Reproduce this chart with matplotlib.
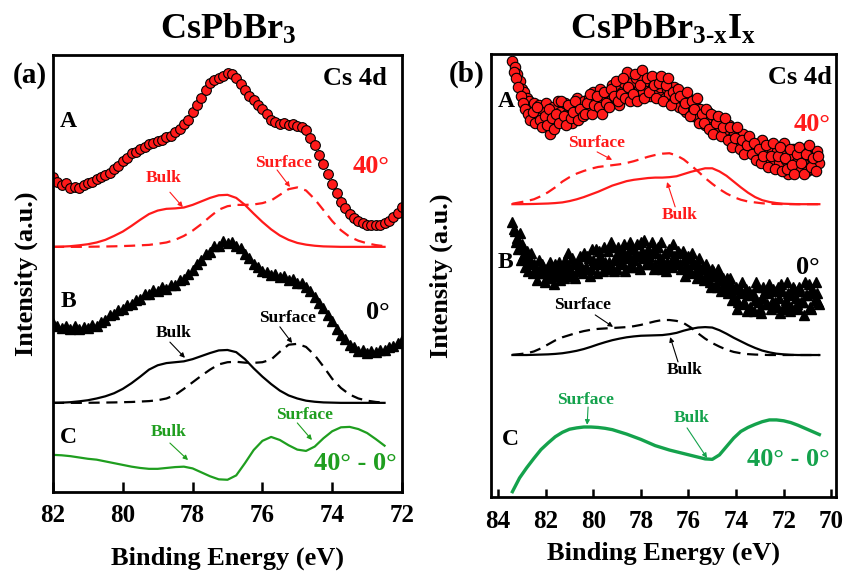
import numpy as np
import matplotlib
matplotlib.use("Agg")
import matplotlib.pyplot as plt

plt.rcParams['font.family'] = 'Liberation Serif'
plt.rcParams['font.weight'] = 'bold'
plt.rcParams['mathtext.fontset'] = 'custom'
plt.rcParams['mathtext.rm'] = 'Liberation Serif:bold'
plt.rcParams['mathtext.bf'] = 'Liberation Serif:bold'
plt.rcParams['mathtext.it'] = 'Liberation Serif:bold'

RED = '#ff1a1a'
GREEN_L = '#1f9e1f'
GREEN_R = '#14a24c'

# ---------------- (a) CsPbBr3 ----------------
# measured spectra, 82 -> 72 eV
a_40_pts = [72.1, 71.0, 70.3, 70.6, 69.6, 69.9, 69.5, 70.3, 70.6, 70.9,
            71.6, 72.0, 72.6, 73.1, 74.0, 74.6, 75.8, 76.4, 77.5, 77.9,
            78.6, 78.9, 79.6, 79.8, 80.3, 80.6, 81.2, 81.4, 82.3, 83.0,
            84.1, 85.2, 87.0, 88.6, 90.1, 92.0, 93.6, 94.2, 94.8, 95.3,
            95.9, 95.6, 94.8, 93.4, 92.0, 90.6, 89.7, 88.5, 87.6, 86.5,
            85.1, 84.6, 84.2, 84.4, 84.0, 84.1, 83.8, 83.5, 82.9, 81.0,
            79.3, 77.2, 75.0, 72.8, 70.5, 68.4, 66.4, 65.0, 63.7, 62.8,
            62.0, 61.5, 61.2, 61.0, 61.1, 61.2, 61.6, 62.1, 62.9, 63.8,
            65.2]
a_0_pts = [38.6, 38.0, 37.6, 38.1, 37.4, 37.9, 37.2, 37.8, 37.6, 38.3,
           38.0, 39.0, 39.3, 40.4, 40.7, 41.7, 41.9, 42.9, 43.0, 44.0,
           44.2, 45.3, 45.4, 46.3, 46.0, 46.8, 46.5, 47.4, 47.4, 48.4,
           48.8, 49.9, 50.8, 52.2, 53.1, 54.5, 55.0, 56.2, 56.4, 57.4,
           57.0, 57.3, 56.2, 55.8, 54.4, 53.5, 52.1, 51.6, 50.6, 50.4,
           49.6, 49.8, 49.1, 49.4, 48.6, 48.8, 47.9, 47.9, 46.8, 45.9,
           44.6, 43.3, 42.1, 40.5, 39.1, 37.4, 36.0, 34.9, 33.6, 33.1,
           32.3, 32.4, 31.8, 32.3, 32.1, 32.6, 32.4, 33.1, 33.3, 34.2,
           34.8]
# fitted components, 82 -> 72.5 eV, height above baseline
a_40_bulk = [0.0, 0.05, 0.15, 0.35, 0.6, 1.0, 1.6, 2.5, 3.5, 4.8,
             6.2, 7.5, 8.3, 8.7, 8.8, 9.0, 9.6, 10.4, 11.2, 11.8,
             11.9, 11.2, 9.6, 7.6, 5.7, 4.0, 2.6, 1.6, 0.9, 0.5,
             0.25, 0.1, 0.05, 0.0, 0.0, 0.0, 0.0, 0.0, 0.0]
a_40_surf = [0.0, 0.0, 0.0, 0.0, 0.02, 0.05, 0.08, 0.12, 0.18, 0.25,
             0.35, 0.45, 0.7, 1.0, 1.6, 2.5, 3.7, 5.2, 6.9, 8.5,
             9.3, 9.6, 9.6, 9.7, 10.0, 10.6, 11.9, 13.2, 13.6, 12.9,
             10.9, 8.4, 5.9, 3.8, 2.3, 1.4, 0.8, 0.4, 0.15]
a_0_bulk = [0.0, 0.05, 0.15, 0.35, 0.6, 1.0, 1.5, 2.2, 3.2, 4.5,
            6.0, 7.6, 8.6, 9.1, 9.3, 9.5, 10.0, 10.7, 11.4, 12.0,
            12.1, 11.6, 10.0, 7.9, 6.0, 4.3, 2.8, 1.7, 1.0, 0.5,
            0.25, 0.1, 0.05, 0.0, 0.0, 0.0, 0.0, 0.0, 0.0]
a_0_surf = [0.0, 0.0, 0.0, 0.0, 0.02, 0.04, 0.07, 0.1, 0.15, 0.2,
            0.3, 0.4, 0.6, 1.0, 1.8, 3.2, 4.7, 6.2, 7.6, 8.8,
            9.3, 9.4, 9.2, 9.15, 9.3, 9.9, 11.7, 13.3, 13.5, 12.8,
            10.9, 8.3, 5.5, 3.4, 1.9, 1.0, 0.5, 0.2, 0.05]
a_diff = [8.5, 8.4, 8.2, 7.9, 7.6, 7.4, 7.0, 6.6, 6.2, 5.8,
          5.5, 5.3, 5.3, 5.5, 5.7, 5.8, 5.4, 4.5, 3.6, 2.9,
          2.8, 3.8, 6.6, 9.6, 11.7, 12.6, 11.9, 10.7, 9.7, 9.4,
          10.4, 12.3, 13.9, 14.8, 14.9, 14.4, 13.5, 12.1, 10.6]
a_base_40 = 56.1
a_base_0 = 20.4

# ---------------- (b) CsPbBr3-xIx ----------------
# measured spectra, two interleaved scans: 83.4 -> 70.5 eV and 83.35 -> 70.55 eV
b_40_pts = [98.5, 97.0, 95.5, 94.0, 92.0, 91.5, 90.0, 89.5, 88.0, 89.0,
            86.0, 88.5, 84.5, 87.5, 89.0, 86.5, 82.0, 88.0, 86.0, 89.5,
            87.0, 85.5, 89.0, 86.5, 88.0, 84.5, 87.5, 90.0, 86.5, 88.5,
            89.5, 87.0, 90.0, 88.0, 91.5, 87.5, 90.5, 92.0, 89.0, 90.5,
            91.0, 89.5, 93.0, 90.0, 92.5, 88.5, 91.5, 93.5, 96.0, 92.0,
            93.5, 90.5, 94.5, 92.0, 95.0, 91.5, 93.0, 94.0, 90.5, 92.5,
            93.5, 91.0, 92.5, 94.5, 90.0, 92.0, 91.0, 89.0, 92.5, 90.0,
            88.0, 91.0, 89.5, 87.0, 90.0, 88.5, 86.0, 88.0, 85.5, 87.5,
            86.5, 84.0, 87.0, 85.0, 83.5, 86.0, 84.5, 82.5, 85.0, 83.0,
            82.0, 84.0, 81.0, 82.5, 80.0, 81.5, 79.5, 82.0, 80.5, 78.5,
            80.0, 78.0, 79.5, 77.0, 79.0, 80.5, 77.5, 79.0, 76.5, 78.5,
            76.0, 78.0, 75.5, 77.5, 80.0, 76.0, 73.0, 77.0, 78.5, 75.5,
            77.5, 74.5, 76.0, 78.5, 73.5, 77.0, 74.0, 76.5, 78.0, 75.5]
b_40_pts2 = [96.0, 94.5, 92.5, 90.5, 89.0, 87.5, 86.5, 85.0, 87.0, 84.5,
             88.0, 85.0, 83.5, 86.0, 84.0, 87.5, 85.5, 83.0, 86.5, 84.5,
             89.5, 86.0, 84.0, 88.5, 85.5, 87.0, 89.5, 85.0, 87.5, 86.0,
             86.5, 89.0, 91.0, 86.5, 88.5, 90.5, 88.0, 86.5, 91.5, 89.0,
             88.0, 92.0, 90.5, 94.0, 89.5, 91.0, 94.5, 90.0, 92.5, 89.5,
             91.0, 95.5, 89.5, 93.0, 96.5, 90.0, 94.5, 91.5, 95.0, 93.0,
             90.0, 93.5, 95.0, 89.5, 93.0, 94.5, 88.5, 91.5, 90.0, 92.0,
             90.5, 87.5, 89.0, 91.5, 86.0, 89.5, 87.5, 90.0, 84.5, 86.5,
             84.5, 87.5, 83.0, 86.5, 82.0, 84.5, 86.0, 81.5, 83.5, 85.5,
             80.5, 83.5, 79.0, 81.0, 83.5, 78.5, 80.5, 77.5, 79.5, 81.5,
             77.5, 80.0, 76.0, 78.5, 75.5, 77.0, 79.5, 74.5, 77.0, 80.0,
             74.0, 77.0, 79.0, 73.5, 76.5, 74.0, 78.5, 75.0, 73.0, 77.5,
             79.0, 75.5, 73.0, 77.5, 79.5, 74.5, 76.5, 73.5, 77.0]
b_0_pts = [62.0, 60.0, 58.5, 59.5, 57.0, 56.0, 55.5, 54.0, 55.0, 52.5,
           51.5, 53.5, 50.5, 52.0, 49.5, 51.0, 53.0, 50.0, 52.5, 51.0,
           49.0, 52.0, 53.5, 50.5, 51.5, 54.0, 50.0, 52.5, 53.0, 51.0,
           55.0, 52.0, 54.0, 51.5, 53.5, 56.0, 52.5, 54.5, 51.0, 53.0,
           55.5, 52.0, 56.5, 53.5, 51.5, 55.0, 53.0, 57.0, 54.0, 52.0,
           56.0, 53.5, 55.0, 52.0, 57.5, 54.0, 52.5, 56.0, 53.0, 55.5,
           52.5, 56.5, 54.0, 51.5, 55.0, 53.0, 56.0, 52.0, 54.5, 52.5,
           55.0, 51.5, 53.5, 52.0, 54.5, 50.5, 53.0, 51.0, 52.5, 50.0,
           52.0, 49.5, 51.0, 48.5, 51.5, 50.0, 47.5, 50.5, 49.0, 47.0,
           49.5, 46.5, 48.0, 45.0, 47.5, 44.0, 46.5, 43.5, 47.0, 45.5,
           43.0, 46.0, 44.5, 47.5, 42.5, 45.0, 46.5, 43.5, 48.0, 44.0,
           46.5, 43.0, 45.0, 48.0, 42.5, 44.5, 46.0, 43.0, 47.5, 45.0,
           42.5, 46.5, 44.0, 48.5, 45.5, 43.0, 47.0, 44.5, 46.0, 43.5]
b_0_pts2 = [60.5, 57.5, 56.0, 53.5, 54.5, 52.0, 51.0, 53.0, 50.5, 51.5,
            49.0, 50.5, 52.5, 48.5, 51.5, 49.5, 52.0, 48.0, 50.0, 53.0,
            51.0, 49.5, 52.0, 55.0, 50.0, 52.5, 49.5, 51.5, 54.5, 50.5,
            51.5, 54.5, 50.0, 56.0, 52.5, 50.5, 55.5, 53.0, 56.5, 51.5,
            53.0, 57.5, 51.0, 54.5, 56.5, 52.5, 55.5, 51.0, 55.0, 57.5,
            52.0, 54.5, 57.0, 51.5, 55.5, 58.0, 52.5, 54.5, 57.5, 51.5,
            55.0, 52.0, 57.5, 53.0, 51.0, 55.5, 52.5, 57.0, 53.0, 55.5,
            52.5, 55.5, 50.0, 54.0, 51.0, 55.0, 52.5, 49.5, 54.0, 51.5,
            49.0, 52.5, 50.5, 47.5, 51.0, 48.0, 51.5, 46.5, 49.5, 48.5,
            46.0, 49.5, 44.5, 47.0, 42.5, 46.0, 48.5, 44.0, 42.0, 46.5,
            45.5, 42.0, 48.5, 44.0, 41.5, 47.5, 43.5, 46.0, 42.5, 47.0,
            44.0, 47.5, 41.5, 46.5, 43.5, 48.5, 42.0, 45.5, 47.0, 43.5,
            47.5, 44.0, 41.0, 45.5, 48.0, 42.5, 46.0, 48.5, 44.0]
# fitted components, 83.4 -> 70.5 eV, height above baseline
b_40_surf = [0.1, 0.4, 0.7, 1.1, 1.8, 2.7, 3.8, 5.1, 6.1, 6.9,
             7.5, 8.0, 8.4, 8.6, 8.8, 9.0, 9.3, 9.7, 10.2, 10.7,
             11.1, 11.4, 11.5, 11.0, 10.1, 8.8, 7.4, 5.9, 4.6, 3.4,
             2.4, 1.6, 1.0, 0.6, 0.4, 0.2, 0.1, 0.05, 0.0, 0.0,
             0.0, 0.0, 0.0, 0.0]
b_40_bulk = [0.0, 0.0, 0.02, 0.05, 0.1, 0.15, 0.25, 0.4, 0.7, 1.1,
             1.6, 2.2, 2.8, 3.5, 4.2, 4.7, 5.2, 5.5, 5.7, 5.9,
             6.0, 6.0, 6.1, 6.3, 6.8, 7.3, 7.7, 8.1, 8.1, 7.4,
             6.4, 5.1, 3.8, 2.6, 1.6, 0.9, 0.5, 0.25, 0.1, 0.05,
             0.0, 0.0, 0.0, 0.0]
b_0_surf = [0.05, 0.2, 0.4, 0.8, 1.5, 2.4, 3.3, 4.0, 4.5, 5.0,
            5.4, 5.7, 5.9, 6.0, 6.1, 6.2, 6.3, 6.5, 6.8, 7.2,
            7.6, 7.9, 7.9, 7.7, 7.2, 6.2, 4.9, 3.7, 2.7, 1.9,
            1.2, 0.7, 0.4, 0.2, 0.1, 0.05, 0.0, 0.0, 0.0, 0.0,
            0.0, 0.0, 0.0, 0.0]
b_0_bulk = [0.0, 0.0, 0.0, 0.05, 0.1, 0.15, 0.25, 0.4, 0.65, 0.95,
            1.35, 1.85, 2.4, 2.9, 3.35, 3.7, 4.0, 4.2, 4.35, 4.4,
            4.45, 4.5, 4.7, 5.0, 5.5, 5.9, 6.2, 6.3, 6.2, 5.6,
            4.8, 3.9, 3.1, 2.3, 1.6, 1.0, 0.6, 0.3, 0.15, 0.05,
            0.0, 0.0, 0.0, 0.0]
b_diff = [1.2, 4.3, 6.6, 8.7, 10.7, 12.2, 13.6, 14.6, 15.3, 15.6,
          15.8, 15.8, 15.7, 15.5, 15.2, 14.7, 14.2, 13.6, 13.0, 12.3,
          11.6, 11.1, 10.6, 10.2, 9.8, 9.4, 9.0, 8.6, 8.5, 9.5,
          11.4, 13.3, 14.8, 15.7, 16.4, 17.0, 17.4, 17.4, 17.2, 16.8,
          16.2, 15.5, 14.8, 14.1]
b_base_40 = 66.1
b_base_0 = 32.05


def arrow(ax, tail, head, color):
    ax.annotate('', xy=head, xytext=tail,
                arrowprops=dict(arrowstyle='-|>', color=color, lw=0.8,
                                mutation_scale=7, shrinkA=0, shrinkB=0))


def style_axes(ax, xlim, ticks, ylab_x, xlab_y, ticklen):
    ax.set_xlim(*xlim)
    ax.set_ylim(0, 100)
    ax.set_xticks(ticks)
    ax.set_yticks([])
    for s in ax.spines.values():
        s.set_linewidth(2)
    ax.tick_params(axis='x', direction='in', length=ticklen, width=1.8,
                   labelsize=18, pad=9)
    ax.set_xlabel('Binding Energy (eV)', fontsize=19, fontweight='bold')
    ax.set_ylabel('Intensity (a.u.)', fontsize=19, fontweight='bold')
    ax.xaxis.set_label_coords(0.5, xlab_y)
    ax.yaxis.set_label_coords(ylab_x, 0.5)


fig = plt.figure(figsize=(8.45, 5.75), dpi=100)
W, H = 845, 575
ax1 = fig.add_axes([53 / W, 1 - 492 / H, 349 / W, 437 / H])
ax2 = fig.add_axes([491 / W, 1 - 497 / H, 345 / W, 443 / H])

# ---- panel (a)
e_pts = np.linspace(82, 72, len(a_40_pts))
e_pts0 = np.linspace(82, 72, len(a_0_pts))
e_fit = np.linspace(82, 72.5, len(a_40_bulk))
ax1.plot(e_pts, a_40_pts, 'o', ms=7, mfc=RED, mec='black', mew=0.8)
ax1.plot(e_fit, a_base_40 + np.array(a_40_bulk), color=RED, lw=1.6)
ax1.plot(e_fit, a_base_40 + np.array(a_40_surf), color=RED, lw=1.6, ls=(0, (5, 3)))
ax1.plot(e_pts0, a_0_pts, '^', ms=6.5, color='black')
ax1.plot(e_fit, a_base_0 + np.array(a_0_bulk), color='black', lw=1.6)
ax1.plot(e_fit, a_base_0 + np.array(a_0_surf), color='black', lw=1.6, ls=(0, (5, 3)))
ax1.plot(e_fit, a_diff, color=GREEN_L, lw=1.6)
style_axes(ax1, (82, 72), [82, 80, 78, 76, 74, 72], -0.043, -0.125, 7)

ax1.text(-0.066, 0.954, '(a)', transform=ax1.transAxes, fontsize=21,
         ha='center', va='center')
ax1.text(73.35, 94.7, 'Cs 4d', fontsize=19, ha='center', va='center')
ax1.text(81.57, 84.7, 'A', fontsize=17, ha='center', va='center')
ax1.text(81.57, 43.5, 'B', fontsize=17, ha='center', va='center')
ax1.text(81.57, 12.4, 'C', fontsize=17, ha='center', va='center')
ax1.text(72.89, 74.4, '40°', color=RED, fontsize=19, ha='center', va='center')
ax1.text(72.69, 41.0, '0°', fontsize=19, ha='center', va='center')
ax1.text(73.35, 6.6, '40° - 0°', color=GREEN_L, fontsize=19, ha='center', va='center')
ax1.text(78.82, 71.8, 'Bulk', color=RED, fontsize=12.5, ha='center', va='center')
ax1.text(75.38, 75.3, 'Surface', color=RED, fontsize=12.5, ha='center', va='center')
ax1.text(78.53, 36.4, 'Bulk', fontsize=12.5, ha='center', va='center')
ax1.text(75.27, 39.8, 'Surface', fontsize=12.5, ha='center', va='center')
ax1.text(78.7, 13.7, 'Bulk', color=GREEN_L, fontsize=12.5, ha='center', va='center')
ax1.text(74.78, 17.6, 'Surface', color=GREEN_L, fontsize=12.5, ha='center', va='center')
arrow(ax1, (78.65, 68.6), (78.28, 65.2), RED)
arrow(ax1, (75.58, 73.7), (75.21, 69.8), RED)
arrow(ax1, (78.65, 34.3), (78.22, 30.7), 'black')
arrow(ax1, (75.5, 37.8), (75.15, 34.1), 'black')
arrow(ax1, (78.65, 11.2), (78.13, 7.3), GREEN_L)
arrow(ax1, (75.0, 15.8), (74.58, 11.9), GREEN_L)

# ---- panel (b)
e_pts = np.linspace(83.4, 70.5, len(b_40_pts))
e_pts2 = np.linspace(83.35, 70.55, len(b_40_pts2))
e_fit = np.linspace(83.4, 70.5, len(b_40_surf))
ax2.plot(e_pts, b_40_pts, 'o', ms=7.5, mfc=RED, mec='black', mew=0.8)
ax2.plot(e_pts2, b_40_pts2, 'o', ms=7.5, mfc=RED, mec='black', mew=0.8)
ax2.plot(e_fit, b_base_40 + np.array(b_40_bulk), color=RED, lw=1.6)
ax2.plot(e_fit, b_base_40 + np.array(b_40_surf), color=RED, lw=1.6, ls=(0, (5, 3)))
ax2.plot(np.linspace(83.4, 70.5, len(b_0_pts)), b_0_pts, '^', ms=7.5, color='black')
ax2.plot(np.linspace(83.35, 70.55, len(b_0_pts2)), b_0_pts2, '^', ms=7.5, color='black')
ax2.plot(e_fit, b_base_0 + np.array(b_0_bulk), color='black', lw=1.6)
ax2.plot(e_fit, b_base_0 + np.array(b_0_surf), color='black', lw=1.6, ls=(0, (5, 3)))
ax2.plot(e_fit, b_diff, color=GREEN_R, lw=2.4)
style_axes(ax2, (84.3, 69.8), [84, 82, 80, 78, 76, 74, 72, 70], -0.11, -0.10, 6)

ax2.text(-0.07, 0.953, '(b)', transform=ax2.transAxes, fontsize=21,
         ha='center', va='center')
ax2.text(71.31, 94.8, 'Cs 4d', fontsize=19, ha='center', va='center')
ax2.text(83.66, 89.2, 'A', fontsize=17, ha='center', va='center')
ax2.text(83.7, 53.0, 'B', fontsize=17, ha='center', va='center')
ax2.text(83.5, 12.9, 'C', fontsize=17, ha='center', va='center')
ax2.text(70.81, 84.0, '40°', color=RED, fontsize=19, ha='center', va='center')
ax2.text(70.97, 51.9, '0°', fontsize=19, ha='center', va='center')
ax2.text(71.82, 8.4, '40° - 0°', color=GREEN_R, fontsize=19, ha='center', va='center')
ax2.text(79.88, 79.9, 'Surface', color=RED, fontsize=12.5, ha='center', va='center')
ax2.text(76.35, 63.6, 'Bulk', color=RED, fontsize=12.5, ha='center', va='center')
ax2.text(80.47, 43.3, 'Surface', fontsize=12.5, ha='center', va='center')
ax2.text(76.14, 28.7, 'Bulk', fontsize=12.5, ha='center', va='center')
ax2.text(80.34, 21.9, 'Surface', color=GREEN_R, fontsize=12.5, ha='center', va='center')
ax2.text(75.85, 17.8, 'Bulk', color=GREEN_R, fontsize=12.5, ha='center', va='center')
arrow(ax2, (79.84, 77.9), (79.21, 76.1), RED)
arrow(ax2, (76.56, 65.5), (76.9, 71.1), RED)
arrow(ax2, (79.92, 41.1), (79.17, 38.4), 'black')
arrow(ax2, (76.44, 30.5), (76.77, 36.1), 'black')
arrow(ax2, (80.22, 20.3), (80.26, 16.3), GREEN_R)
arrow(ax2, (76.06, 15.6), (75.22, 8.8), GREEN_R)

# titles
fig.text(228 / W, 1 - 30 / H, r'CsPbBr$_\mathbf{3}$', fontsize=26,
         ha='center', va='center')
fig.text(663 / W, 1 - 30 / H, r'CsPbBr$_\mathbf{3\text{-}x}$I$_\mathbf{x}$', fontsize=26,
         ha='center', va='center')

fig.savefig('out.png', dpi=100)
